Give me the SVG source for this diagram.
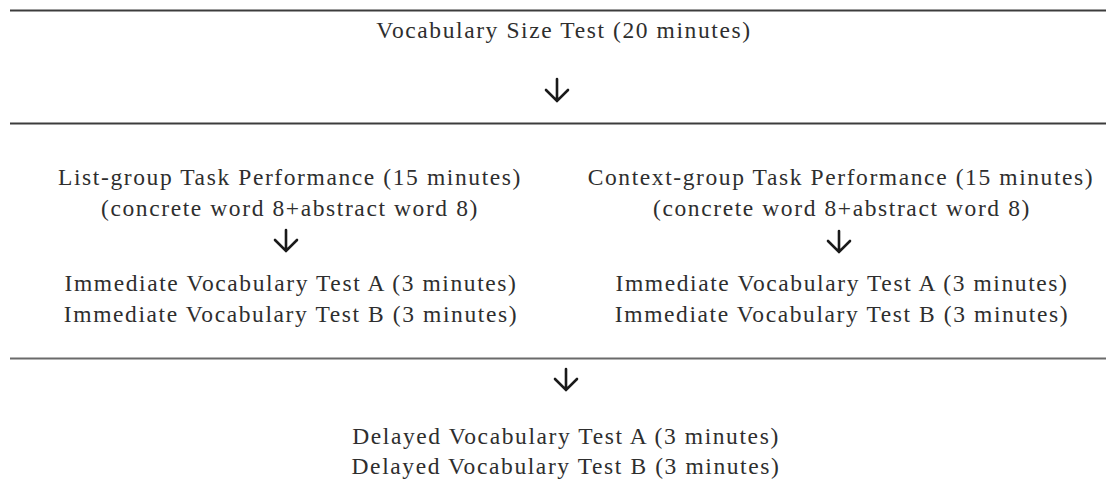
<svg xmlns="http://www.w3.org/2000/svg" width="1106" height="490" viewBox="0 0 1106 490">
<style>
  .t { font-family: "Liberation Serif", "Times New Roman", serif; font-size: 23.5px; letter-spacing: 1.6px; fill: #2e2e2e; text-anchor: middle; }
  .rule { stroke: #3c3c3c; stroke-width: 2; }
  .arr { stroke: #1a1a1a; stroke-width: 2.6; fill: none; stroke-linecap: round; stroke-linejoin: miter; }
</style>
<rect width="1106" height="490" fill="#ffffff"/>
<g id="rules">
  <line class="rule" x1="10" y1="10.5" x2="1106" y2="10.5"/>
  <line class="rule" x1="10" y1="123.5" x2="1106" y2="123.5"/>
  <line class="rule" x1="10" y1="358.5" x2="1106" y2="358.5" style="stroke:#6a6a6a"/>
</g>
<g id="connectors">
  <path class="arr" d="M557 79 V101 M546 90 L557 101 L568 90"/>
  <path class="arr" d="M286 230 V251 M275 240 L286 251 L297 240"/>
  <path class="arr" d="M839 231 V252 M828 241 L839 252 L850 241"/>
  <path class="arr" d="M566 369 V390 M555 379 L566 390 L577 379"/>
</g>
<g id="vocab-size-test">
  <text class="t" x="564" y="38">Vocabulary Size Test (20 minutes)</text>
</g>
<g id="list-group">
  <text class="t" x="290" y="185">List-group Task Performance (15 minutes)</text>
  <text class="t" x="290" y="216">(concrete word 8+abstract word 8)</text>
  <text class="t" x="291" y="291">Immediate Vocabulary Test A (3 minutes)</text>
  <text class="t" x="291" y="322">Immediate Vocabulary Test B (3 minutes)</text>
</g>
<g id="context-group">
  <text class="t" x="841" y="185">Context-group Task Performance (15 minutes)</text>
  <text class="t" x="842" y="216">(concrete word 8+abstract word 8)</text>
  <text class="t" x="842" y="291">Immediate Vocabulary Test A (3 minutes)</text>
  <text class="t" x="842" y="322">Immediate Vocabulary Test B (3 minutes)</text>
</g>
<g id="delayed">
  <text class="t" x="566" y="444">Delayed Vocabulary Test A (3 minutes)</text>
  <text class="t" x="566" y="474">Delayed Vocabulary Test B (3 minutes)</text>
</g>
</svg>
